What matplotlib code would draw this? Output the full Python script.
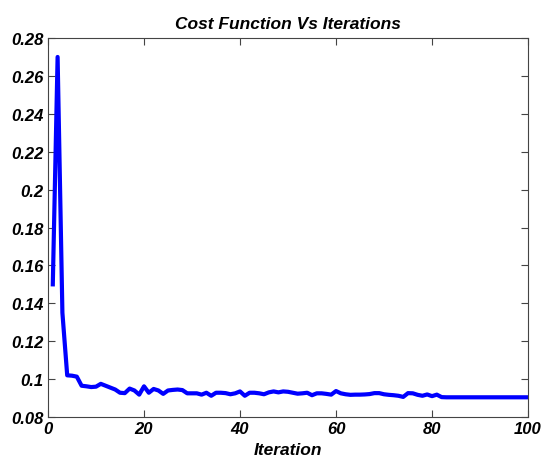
import matplotlib
matplotlib.use("Agg")
import matplotlib.pyplot as plt
import numpy as np
from matplotlib.ticker import FuncFormatter

iterations = list(range(1, 101))
cost = [0.150, 0.270, 0.135, 0.102, 0.1018, 0.1013, 0.0965, 0.0962, 0.0958, 0.0960,
        0.0975, 0.0965, 0.0955, 0.0945, 0.0928, 0.0926, 0.0950, 0.0940, 0.0918, 0.0962,
        0.0928, 0.0948, 0.0940, 0.0922, 0.0940, 0.0943, 0.0945, 0.0942, 0.0925, 0.0925,
        0.0925, 0.0918, 0.0928, 0.0912, 0.0928, 0.0928, 0.0926, 0.0920, 0.0925, 0.0935,
        0.0912, 0.0928, 0.0928, 0.0925, 0.0920, 0.0930, 0.0935, 0.0930, 0.0935, 0.0933,
        0.0928, 0.0923, 0.0925, 0.0928, 0.0915, 0.0925, 0.0925, 0.0922, 0.0918, 0.0937,
        0.0925, 0.0920, 0.0917, 0.0918, 0.0918, 0.0919, 0.0921, 0.0926, 0.0926, 0.0920,
        0.0917, 0.0915, 0.0912, 0.0906, 0.0926, 0.0925, 0.0917, 0.0912, 0.0919, 0.0910,
        0.0918, 0.0905] + [0.0904] * 18

xticks = [0, 20, 40, 60, 80, 100]
yticks = [0.08, 0.1, 0.12, 0.14, 0.16, 0.18, 0.2, 0.22, 0.24, 0.26, 0.28]

plt.rcParams['font.family'] = ['Liberation Sans', 'DejaVu Sans']

fig = plt.figure(figsize=(5.43, 4.60), dpi=100)
ax = fig.add_axes([0.0884, 0.0913, 0.8840, 0.8239])
ax.plot(iterations, cost, color='#0000FF', linewidth=3)
ax.set_xlim(0, 100)
ax.set_ylim(0.08, 0.28)
ax.set_xticks(xticks)
ax.set_yticks(yticks)
ax.yaxis.set_major_formatter(FuncFormatter(lambda v, p: '%g' % round(v, 4)))
ax.tick_params(direction='in', top=True, right=True, length=5, width=0.8,
               colors='#444444', labelcolor='black', labelsize=12, pad=3)
for lab in ax.get_xticklabels() + ax.get_yticklabels():
    lab.set_fontweight('bold')
    lab.set_fontstyle('italic')
for s in ax.spines.values():
    s.set_color('#444444')
    s.set_linewidth(0.8)
ax.set_title('Cost Function Vs Iterations', fontsize=12.5, fontweight='bold',
             fontstyle='italic', pad=7)
ax.set_xlabel('Iteration', fontsize=12.5, fontweight='bold', fontstyle='italic', labelpad=4)
fig.savefig('out.png', dpi=100, facecolor='white')
